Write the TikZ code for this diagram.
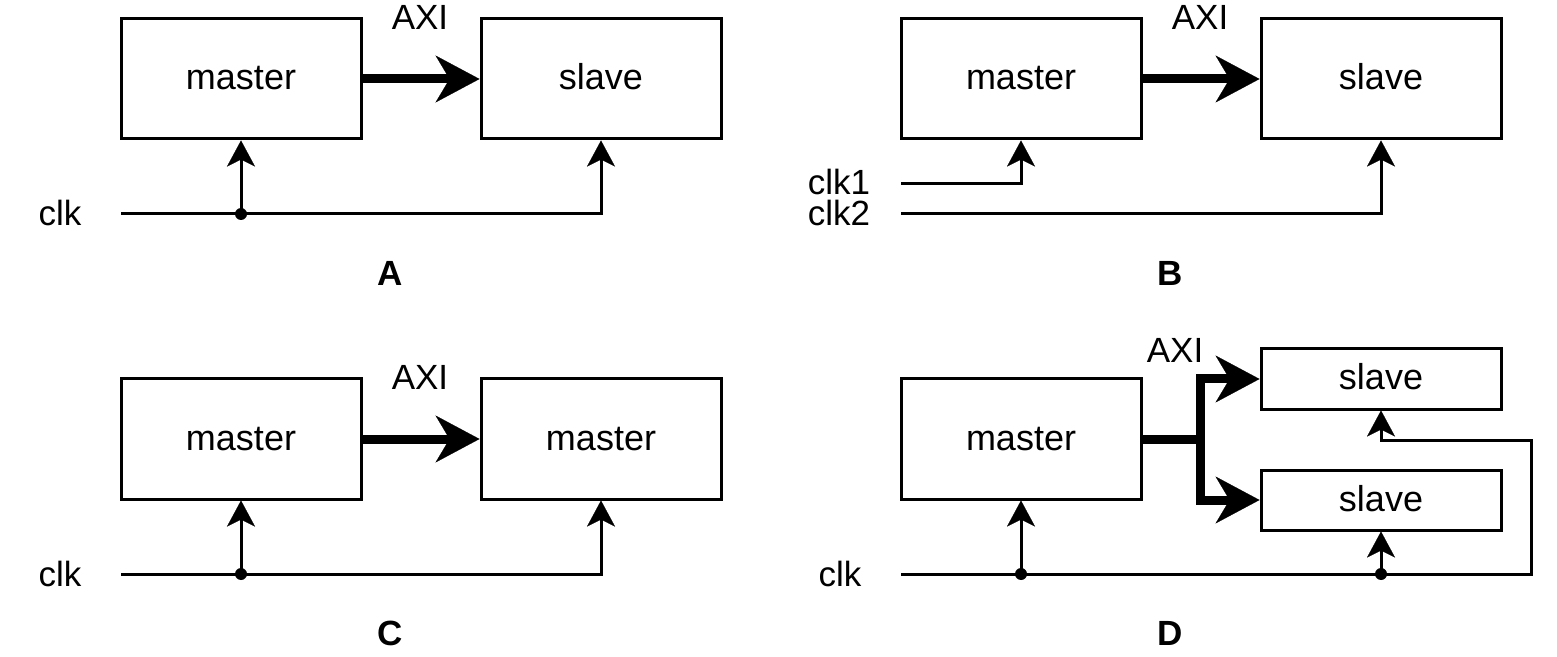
\documentclass[tikz,border=0pt]{standalone}
\usepackage{fontspec}
\setmainfont{Liberation Sans}
\usetikzlibrary{arrows.meta}

\tikzset{
  block/.style={draw, line width=1.5pt, minimum width=120pt, minimum height=60pt, inner sep=0pt, text height=14pt, text depth=3pt, font=\fontsize{18}{21}\selectfont},
  smallblock/.style={block, minimum height=30pt},
  bus/.style={line width=4.5pt, -{Stealth[length=22pt, width=23.5pt, inset=7pt, line width=0.1pt]}},
  busline/.style={line width=4.5pt},
  clkline/.style={line width=1.5pt, -{Stealth[length=13pt, width=14pt, inset=3.5pt, line width=0.1pt]}},
  dot/.style={circle, fill, inner sep=0pt, minimum size=6pt},
  lbl/.style={inner sep=0pt, font=\fontsize{17.5}{20}\selectfont},
  clklbl/.style={lbl, text height=12pt, text depth=0pt},
  tag/.style={inner sep=0pt, font=\fontsize{17.5}{20}\selectfont\bfseries},
}

\begin{document}
\begin{tikzpicture}[x=0.5pt, y=-0.5pt]
\useasboundingbox (0,0) rectangle (1557,657);

\node[block] (mA) at (241,79) {master};
\node[block] (sA) at (601,79) {slave};
\node[lbl] (axiA) at (420,17) {AXI};
\node[clklbl] (clkA) at (60,214) {clk};
\node[tag] (tagA) at (390,273) {A};
\coordinate (ckA) at (121,214);
\draw[bus] (mA) -- (sA);
\draw[clkline] (ckA) -| (sA.south);
\draw[clkline] (mA.south |- ckA) -- (mA.south);
\node[dot] (jA) at (mA.south |- ckA) {};

\node[block] (mB) at (1021,79) {master};
\node[block] (sB) at (1381,79) {slave};
\node[lbl] (axiB) at (1200,17) {AXI};
\node[clklbl] (clkB1) at (839,183) {clk1};
\node[clklbl] (clkB2) at (839,214) {clk2};
\node[tag] (tagB) at (1170,273) {B};
\coordinate (ckB1) at (901,184);
\coordinate (ckB2) at (901,214);
\draw[bus] (mB) -- (sB);
\draw[clkline] (ckB1) -| (mB.south);
\draw[clkline] (ckB2) -| (sB.south);

\node[block] (mC) at (241,439) {master};
\node[block] (sC) at (601,439) {master};
\node[lbl] (axiC) at (420,377) {AXI};
\node[clklbl] (clkC) at (60,574) {clk};
\node[tag] (tagC) at (390,633) {C};
\coordinate (ckC) at (121,574);
\draw[bus] (mC) -- (sC);
\draw[clkline] (ckC) -| (sC.south);
\draw[clkline] (mC.south |- ckC) -- (mC.south);
\node[dot] (jC) at (mC.south |- ckC) {};

\node[block] (mD) at (1021,439) {master};
\node[smallblock] (sD1) at (1381,379) {slave};
\node[smallblock] (sD2) at (1381,500) {slave};
\node[lbl] (axiD) at (1175,350) {AXI};
\node[clklbl] (clkD) at (840,574) {clk};
\node[tag] (tagD) at (1170,633) {D};
\coordinate (bD) at (1200,439);
\coordinate (ckD) at (901,574);
\coordinate (tD) at (1531,440);
\draw[busline] (mD) -- (bD);
\draw[bus] (bD) |- (sD1);
\draw[bus] (bD) |- (sD2);
\draw[clkline] (ckD) -| (tD) -| (sD1.south);
\draw[clkline] (mD.south |- ckD) -- (mD.south);
\draw[clkline] (sD2.south |- ckD) -- (sD2.south);
\node[dot] (jD1) at (mD.south |- ckD) {};
\node[dot] (jD2) at (sD2.south |- ckD) {};
\end{tikzpicture}
\end{document}
